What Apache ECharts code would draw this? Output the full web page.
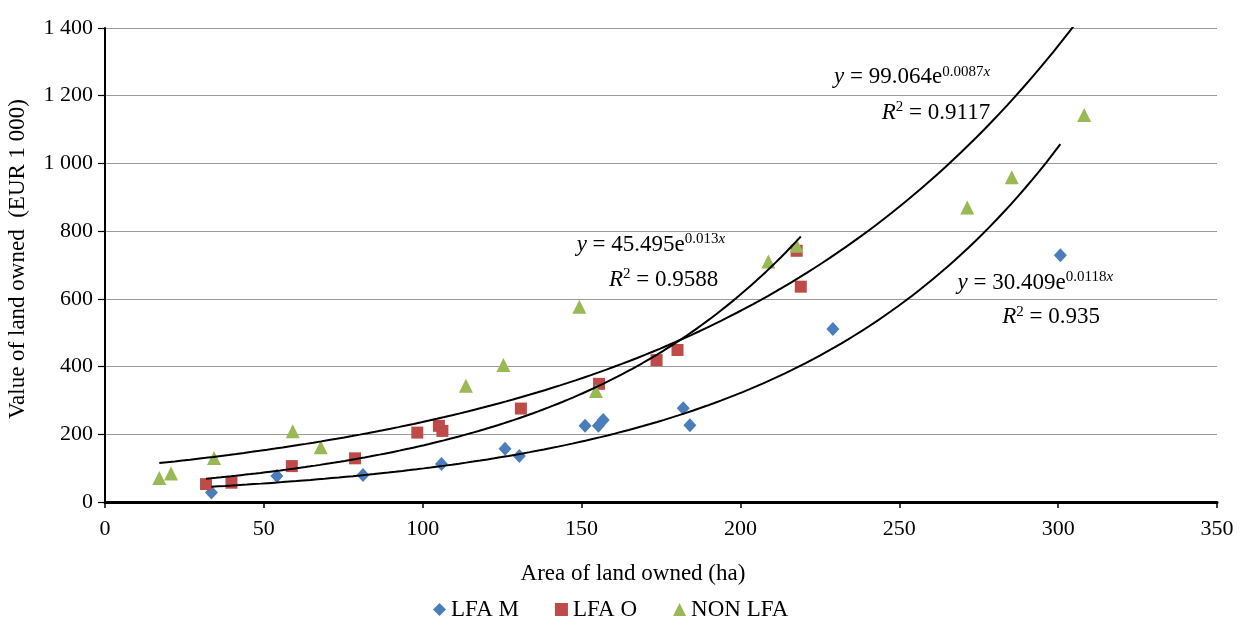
<!DOCTYPE html>
<html>
<head>
<meta charset="utf-8">
<script src="https://cdn.jsdelivr.net/npm/echarts@6/dist/echarts.min.js"></script>
<style>
html,body{margin:0;padding:0;background:#fff;}
#main{width:1245px;height:617px;}
</style>
</head>
<body>
<div id="main"></div>
<script>
// ---- data ----
var seriesNames = ['LFA M', 'LFA O', 'NON LFA'];
var lfaM_x = [33.5, 54.1, 81.2, 105.9, 125.9, 130.4, 151.1, 155.3, 156.8, 182.0, 184.1, 229.1, 300.7];
var lfaM_y = [28, 77, 80, 112, 157, 136, 225, 225, 242, 277, 227, 511, 729];
var lfaO_x = [31.8, 39.8, 58.8, 78.7, 98.3, 105.1, 106.2, 130.9, 155.5, 173.6, 180.2, 217.7, 219.0];
var lfaO_y = [53, 57, 106, 129, 205, 225, 210, 276, 349, 419, 449, 742, 636];
var nonLfa_x = [17.1, 20.8, 34.3, 59.1, 67.9, 113.6, 125.4, 149.3, 154.5, 208.8, 217.7, 271.4, 285.4, 308.2];
var nonLfa_y = [71, 84, 130, 209, 162, 343, 405, 577, 328, 710, 757, 870, 959, 1143];
// exponential trendlines y = a * e^(b x) as printed on the chart
var trendA = [30.409, 45.495, 99.064];
var trendB = [0.0118, 0.013, 0.0087];
var trendR2 = ['0.935', '0.9588', '0.9117'];
var trendAtxt = ['30.409', '45.495', '99.064'];
var trendBtxt = ['0.0118', '0.013', '0.0087'];
var xTicks = [0, 50, 100, 150, 200, 250, 300, 350];
var yTicks = [0, 200, 400, 600, 800, 1000, 1200, 1400];

var FONT = '"Liberation Serif", "DejaVu Serif", serif';
var colors = ['#4A7EBB', '#BE4B48', '#98B954'];
var symbols = ['diamond', 'rect', 'triangle'];
var symSizes = [[13, 14], 12, 14];

function pairs(xs, ys) { return xs.map(function (x, i) { return [x, ys[i]]; }); }
var dataSets = [pairs(lfaM_x, lfaM_y), pairs(lfaO_x, lfaO_y), pairs(nonLfa_x, nonLfa_y)];
var xsets = [lfaM_x, lfaO_x, nonLfa_x];

function trend(k) {
  var xs = xsets[k];
  var lo = Math.min.apply(null, xs), hi = Math.max.apply(null, xs);
  var pts = [];
  var n = 120;
  for (var i = 0; i <= n; i++) {
    var x = lo + (hi - lo) * i / n;
    pts.push([x, trendA[k] * Math.exp(trendB[k] * x)]);
  }
  return pts;
}

function fmtThousands(v) {
  var s = String(v);
  return s.replace(/\B(?=(\d{3})+(?!\d))/g, ' ');
}

var series = [];
for (var k = 0; k < 3; k++) {
  series.push({
    name: seriesNames[k],
    type: 'scatter',
    data: dataSets[k],
    symbol: symbols[k],
    symbolSize: symSizes[k],
    itemStyle: { color: colors[k], opacity: 1 },
    z: 3
  });
}
for (var k2 = 0; k2 < 3; k2++) {
  series.push({
    name: 'trend' + k2,
    type: 'line',
    data: trend(k2),
    showSymbol: false,
    symbol: 'none',
    smooth: false,
    clip: true,
    lineStyle: { color: '#000', width: 2 },
    silent: true,
    z: 4
  });
}

var rich = {
  i: { fontFamily: FONT, fontStyle: 'italic', fontSize: 23, color: '#000', lineHeight: 26 },
  n: { fontFamily: FONT, fontSize: 23, color: '#000', lineHeight: 26 },
  sup: { fontFamily: FONT, fontSize: 15, color: '#000', verticalAlign: 'top', lineHeight: 26 },
  supi: { fontFamily: FONT, fontSize: 15, fontStyle: 'italic', color: '#000', verticalAlign: 'top', lineHeight: 26 }
};

var option = {
  backgroundColor: '#fff',
  animation: false,
  color: colors,
  textStyle: { fontFamily: FONT },
  grid: { left: 105, right: 28, top: 28, bottom: 115, containLabel: false, outerBoundsMode: 'none' },
  legend: {
    data: seriesNames,
    left: 428,
    top: 593,
    itemWidth: 13,
    itemHeight: 13,
    itemGap: 36,
    textStyle: { fontFamily: FONT, fontSize: 23, color: '#000' }
  },
  xAxis: {
    type: 'value',
    min: 0, max: 350, interval: 50,
    name: 'Area of land owned (ha)',
    nameLocation: 'middle',
    nameGap: 60,
    nameTextStyle: { fontFamily: FONT, fontSize: 23, color: '#000', padding: [0, 56, 0, 0] },
    axisLine: { show: true, onZero: false, lineStyle: { color: '#000', width: 3 } },
    axisTick: { show: true, length: 6, inside: false, lineStyle: { color: '#000', width: 1.5 } },
    axisLabel: { margin: 16, fontFamily: FONT, fontSize: 22, color: '#000',
      formatter: function (v) { return xTicks.indexOf(v) >= 0 ? fmtThousands(v) : ''; } },
    splitLine: { show: false }
  },
  yAxis: {
    type: 'value',
    min: 0, max: 1400, interval: 200,
    name: 'Value of land owned  (EUR 1 000)',
    nameLocation: 'middle',
    nameRotate: 90,
    nameGap: 76,
    nameTextStyle: { fontFamily: FONT, fontSize: 23, color: '#000', padding: [0, 0, 0, 12] },
    axisLine: { show: true, onZero: false, lineStyle: { color: '#000', width: 2 } },
    axisTick: { show: true, length: 7, inside: false, lineStyle: { color: '#000', width: 1.2 } },
    axisLabel: { margin: 12, fontFamily: FONT, fontSize: 22, color: '#000',
      formatter: function (v) { return yTicks.indexOf(v) >= 0 ? fmtThousands(v) : ''; } },
    splitLine: { show: true, lineStyle: { color: '#9a9a9a', width: 1 } }
  },
  series: series
};

var chart = echarts.init(document.getElementById('main'), null, { renderer: 'canvas' });
chart.setOption(option);

// equation labels anchored in data coordinates (right edge, vertical middle)
var labelAnchors = [
  { eq: [317.3, 647], r2: [313.2, 546] },   // LFA M
  { eq: [195.2, 759], r2: [193.0, 656] },   // LFA O
  { eq: [278.6, 1255], r2: [278.6, 1149] }  // NON LFA
];
var graphics = [];
for (var g = 0; g < 3; g++) {
  var pe = chart.convertToPixel({ gridIndex: 0 }, labelAnchors[g].eq);
  var pr = chart.convertToPixel({ gridIndex: 0 }, labelAnchors[g].r2);
  graphics.push({
    type: 'text', x: pe[0], y: pe[1], z: 100,
    style: {
      text: '{i|y}{n| = ' + trendAtxt[g] + 'e}{sup|' + trendBtxt[g] + '}{supi|x}',
      rich: rich, align: 'right', verticalAlign: 'middle'
    }
  });
  graphics.push({
    type: 'text', x: pr[0], y: pr[1], z: 100,
    style: {
      text: '{i|R}{sup|2}{n| = ' + trendR2[g] + '}',
      rich: rich, align: 'right', verticalAlign: 'middle'
    }
  });
}
chart.setOption({ graphic: graphics });
</script>
</body>
</html>
